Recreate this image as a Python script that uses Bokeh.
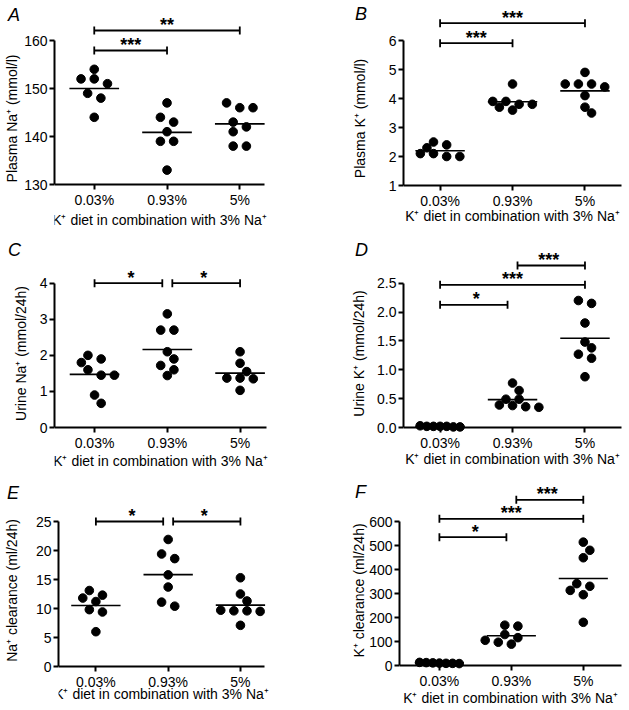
import numpy as np
from bokeh.plotting import figure
from bokeh.layouts import column, row
from bokeh.models import FixedTicker, NumeralTickFormatter, Range1d, Div
from bokeh.embed import file_html
from bokeh.resources import INLINE
from bokeh.core.properties import value

# ---------------- data ----------------
categories = ["0.03%", "0.93%", "5%"]
x_title = "K\u207a diet in combination with 3% Na\u207a"

a_low = [152, 154, 152, 151, 149, 148, 144]
a_mid = [147, 143, 144, 141, 139, 139, 133]
a_high = [147, 146, 146, 143, 142, 141, 138, 138]

b_low = [2.5, 2.3, 2.4, 2.1, 2.0, 2.0, 2.1]
b_mid = [4.5, 3.8, 3.9, 3.9, 3.8, 3.6, 3.7]
b_high = [4.9, 4.5, 4.5, 4.5, 4.4, 4.1, 3.7, 3.5]

c_low = [2.0, 1.8, 1.9, 1.6, 1.45, 1.45, 0.9, 0.67]
c_mid = [3.15, 2.7, 2.7, 2.1, 1.9, 1.72, 1.6, 1.44]
c_high = [2.1, 1.78, 1.55, 1.37, 1.37, 1.35, 1.03]

d_low = [0.01, 0.02, 0.02, 0.01, 0.02, 0.03, 0.02]
d_mid = [0.77, 0.64, 0.49, 0.49, 0.38, 0.35, 0.36, 0.39]
d_high = [2.15, 2.2, 1.81, 1.48, 1.38, 1.27, 1.2, 0.88]

e_low = [13.1, 11.8, 12.3, 11.2, 9.8, 9.4, 6.0]
e_mid = [21.9, 19.4, 18.6, 15.8, 13.7, 11.1, 10.4]
e_high = [15.3, 12.5, 11.3, 9.5, 9.6, 9.7, 9.6, 7.1]

f_low = [12, 11, 9, 8, 9, 10, 13]
f_mid = [168, 164, 129, 116, 105, 89, 97]
f_high = [514, 480, 449, 341, 313, 295, 330, 180]

a_ticks = [130, 140, 150, 160]
b_ticks = [1, 2, 3, 4, 5, 6]
c_ticks = [0, 1, 2, 3, 4]
d_ticks = [0, 0.5, 1.0, 1.5, 2.0, 2.5]
e_ticks = [0, 5, 10, 15, 20, 25]
f_ticks = [0, 100, 200, 300, 400, 500, 600]

a_sig = [(0, 1, "***"), (0, 2, "**")]
b_sig = [(0, 1, "***"), (0, 2, "***")]
c_sig = [(0, 1, "*"), (1, 2, "*")]
d_sig = [(0, 1, "*"), (0, 2, "***"), (1, 2, "***")]
e_sig = [(0, 1, "*"), (1, 2, "*")]
f_sig = [(0, 1, "*"), (0, 2, "***"), (1, 2, "***")]

# ---------------- layout (screen px) ----------------
FONT = "Liberation Sans"
COL_L = [0, 348]
COL_R = [348, 629]
ROW_T = [0, 236, 470]
ROW_B = [236, 470, 710]
SP = 72.67       # px between categories
HIDDEN_B = 60    # reserved bottom panel, pulled under the next row
LW, LH = 20, 22  # letter box

panels = [
    dict(letter="A", groups=[a_low, a_mid, a_high], ticks=a_ticks, sig=a_sig,
         ylabel="Plasma Na\u207a (mmol/l)", ystand=1, xstand=1, col=0, row=0, axis=184, top=40,
         fl=54.3, xe=264, fr=282, cat0=94, levels=[-10, 10], lx=8, ltop=8.3, fmt=None),
    dict(letter="B", groups=[b_low, b_mid, b_high], ticks=b_ticks, sig=b_sig,
         ylabel="Plasma K\u207a (mmol/l)", ystand=18, xstand=-4, col=1, row=0, axis=185, top=40,
         fl=402.3, xe=621, fr=629, cat0=439, levels=[-2.7, 17.3], lx=355, ltop=7.3, fmt=None),
    dict(letter="C", groups=[c_low, c_mid, c_high], ticks=c_ticks, sig=c_sig,
         ylabel="Urine Na\u207a (mmol/24h)", ystand=8, xstand=-1, col=0, row=1, axis=427, top=282.7,
         fl=54.3, xe=266, fr=292, cat0=94.3, levels=[0, 0], lx=8, ltop=243.3, fmt=None),
    dict(letter="D", groups=[d_low, d_mid, d_high], ticks=d_ticks, sig=d_sig,
         ylabel="Urine K\u207a (mmol/24h)", ystand=7, xstand=-3, col=1, row=1, axis=427, top=282.7,
         fl=402.3, xe=621, fr=629, cat0=439, levels=[-21.6, -1.6, 17.7], lx=355, ltop=243.3, fmt="0.0"),
    dict(letter="E", groups=[e_low, e_mid, e_high], ticks=e_ticks, sig=e_sig,
         ylabel="Na\u207a clearance (ml/24h)", ystand=13, xstand=-7, col=0, row=2, axis=666, top=521,
         fl=56.7, xe=264, fr=294, cat0=94.3, levels=[0, 0], lx=7, ltop=486.7, fmt=None),
    dict(letter="F", groups=[f_low, f_mid, f_high], ticks=f_ticks, sig=f_sig,
         ylabel="K\u207a clearance (ml/24h)", ystand=-1, xstand=-2, col=1, row=2, axis=665, top=521,
         fl=396.7, xe=621, fr=629, cat0=437, levels=[-15.7, 2.7, 21.7], lx=355, ltop=485, fmt=None),
]


def swarm(vals, ppu, half=6.6, dmin=8.5, thresh=5.5, maxw=40.0):
    vals = np.asarray(vals, dtype=float)
    order = np.argsort(-vals, kind="stable")
    rows, cur = [], []
    for k in order:
        if cur and (vals[cur[0]] - vals[k]) * ppu > thresh:
            rows.append(cur)
            cur = []
        cur.append(k)
    if cur:
        rows.append(cur)
    offs = np.zeros(len(vals))
    placed = []
    for r in rows:
        n = len(r)
        sp = min(2 * half, maxw / (n - 1)) if n > 1 else 0.0
        base = [(m - (n - 1) / 2) * sp for m in range(n)]
        for s in [0, 1, -1, 2, -2, 3, -3, 4, -4]:
            cand = [b + s * half for b in base]
            ok = all(np.hypot(c - px, (vals[k] * ppu) - py) >= dmin
                     for c, k in zip(cand, r) for px, py in placed)
            if ok:
                break
        for c, k in zip(cand, r):
            offs[k] = c
            placed.append((c, vals[k] * ppu))
    return offs


def make_panel(cfg):
    ticks = cfg["ticks"]
    ylo, yhi = ticks[0], ticks[-1]
    ppu = (cfg["axis"] - cfg["top"]) / (yhi - ylo)
    cl, cr = COL_L[cfg["col"]], COL_R[cfg["col"]]
    ct, cb = ROW_T[cfg["row"]], ROW_B[cfg["row"]]
    # the frame fills the whole cell height; the x axis sits at its fixed data location
    fig_h = (cb - ct) + HIDDEN_B

    y_end = yhi + (cfg["top"] - ct) / ppu
    y_start = ylo - (cb - cfg["axis"]) / ppu
    x_start = (cfg["fl"] - cfg["cat0"]) / SP
    x_end = (cfg["fr"] - cfg["cat0"]) / SP
    x_axis_end = (cfg["xe"] - cfg["cat0"]) / SP

    p = figure(width=cr - cl, height=fig_h, x_range=Range1d(x_start, x_end),
               y_range=Range1d(y_start, y_end), output_backend="svg",
               toolbar_location=None,
               min_border_left=int(round(cfg["fl"] - cl)), min_border_right=cr - cfg["fr"],
               min_border_top=0, min_border_bottom=HIDDEN_B,
               margin=(0, 0, -HIDDEN_B, 0))
    p.outline_line_color = None
    p.grid.visible = False
    p.background_fill_color = None
    p.border_fill_color = None

    for ax in (p.xaxis[0], p.yaxis[0]):
        ax.axis_line_width = 2
        ax.axis_line_color = "black"
        ax.major_tick_line_width = 2
        ax.major_tick_line_color = "black"
        ax.major_tick_out = 5
        ax.major_tick_in = 0
        ax.minor_tick_out = 0
        ax.minor_tick_in = 0
        ax.major_label_text_font = FONT
        ax.major_label_text_font_size = "14px"
        ax.major_label_text_color = "black"
        ax.axis_label_text_font = FONT
        ax.axis_label_text_font_size = "14px"
        ax.axis_label_text_font_style = "normal"
        ax.axis_label_text_color = "black"
        ax.major_label_standoff = 2

    p.xaxis.ticker = FixedTicker(ticks=[0, 1, 2])
    p.xaxis.major_label_overrides = {i: c for i, c in enumerate(categories)}
    p.xaxis.axis_label = x_title
    p.xaxis.axis_label_standoff = cfg["xstand"]
    p.xaxis.fixed_location = ylo
    p.xaxis.bounds = (x_start, x_axis_end)
    p.yaxis.ticker = FixedTicker(ticks=ticks)
    p.yaxis.bounds = (ylo, yhi)
    p.yaxis.axis_label = cfg["ylabel"]
    p.yaxis.axis_label_standoff = cfg["ystand"]
    if cfg["fmt"]:
        p.yaxis.formatter = NumeralTickFormatter(format=cfg["fmt"])

    # points and mean lines
    xs, ys = [], []
    mx0, mx1, my = [], [], []
    half_mean = 24.8 / SP
    for gi, vals in enumerate(cfg["groups"]):
        offs = swarm(vals, ppu)
        xs += list(gi + offs / SP)
        ys += list(vals)
        m = float(np.mean(vals))
        mx0.append(gi - half_mean)
        mx1.append(gi + half_mean)
        my.append(m)
    p.segment(x0=mx0, y0=my, x1=mx1, y1=my, line_color="black", line_width=1.6)
    p.scatter(x=xs, y=ys, size=8.6, marker="circle", fill_color="black", line_color="black")

    # significance brackets
    sig = cfg["sig"]
    bx0, bx1, by, tx, ty, tt = [], [], [], [], [], []
    cx, cy0, cy1 = [], [], []
    inset = 5.0 / SP
    cap = 4.0 / ppu
    for (i, j, lab), lvl in zip(sig, cfg["levels"]):
        yv = yhi + lvl / ppu
        x0 = i + (inset if any(o[1] == i for o in sig) else 0)
        x1 = j - (inset if any(o[0] == j for o in sig) else 0)
        bx0.append(x0); bx1.append(x1); by.append(yv)
        cx += [x0, x1]; cy0 += [yv - cap, yv - cap]; cy1 += [yv + cap, yv + cap]
        tx.append((i + j) / 2)
        ty.append(yv + 5.6 / ppu)
        tt.append(lab)
    p.segment(x0=bx0, y0=by, x1=bx1, y1=by, line_color="black", line_width=1.8)
    p.segment(x0=cx, y0=cy0, x1=cx, y1=cy1, line_color="black", line_width=1.8)
    p.text(x=tx, y=ty, text=tt, text_align="center", text_baseline="alphabetic",
           text_font=value(FONT), text_font_size="18px", text_font_style="bold",
           text_color="black")
    return p


def letter_div(cfg):
    cl = COL_L[cfg["col"]]
    ct = ROW_T[cfg["row"]]
    left = int(round(cfg["lx"] - cl))
    top = int(round(cfg["ltop"] - 2.3 - ct))
    html = ("<div style=\"font-family:'Liberation Sans';font-style:italic;"
            "font-size:18px;line-height:18px;color:black;margin:0;padding:0\">"
            + cfg["letter"] + "</div>")
    return Div(text=html, width=LW, height=LH, margin=(top, -(left + LW), 0, left))


figs = [make_panel(c) for c in panels]
divs = [letter_div(c) for c in panels]
rows = [row(divs[2 * k], figs[2 * k], divs[2 * k + 1], figs[2 * k + 1]) for k in range(3)]
layout = column(*rows, styles={"overflow": "hidden"})

open("out.html", "w").write(file_html(layout, INLINE))
